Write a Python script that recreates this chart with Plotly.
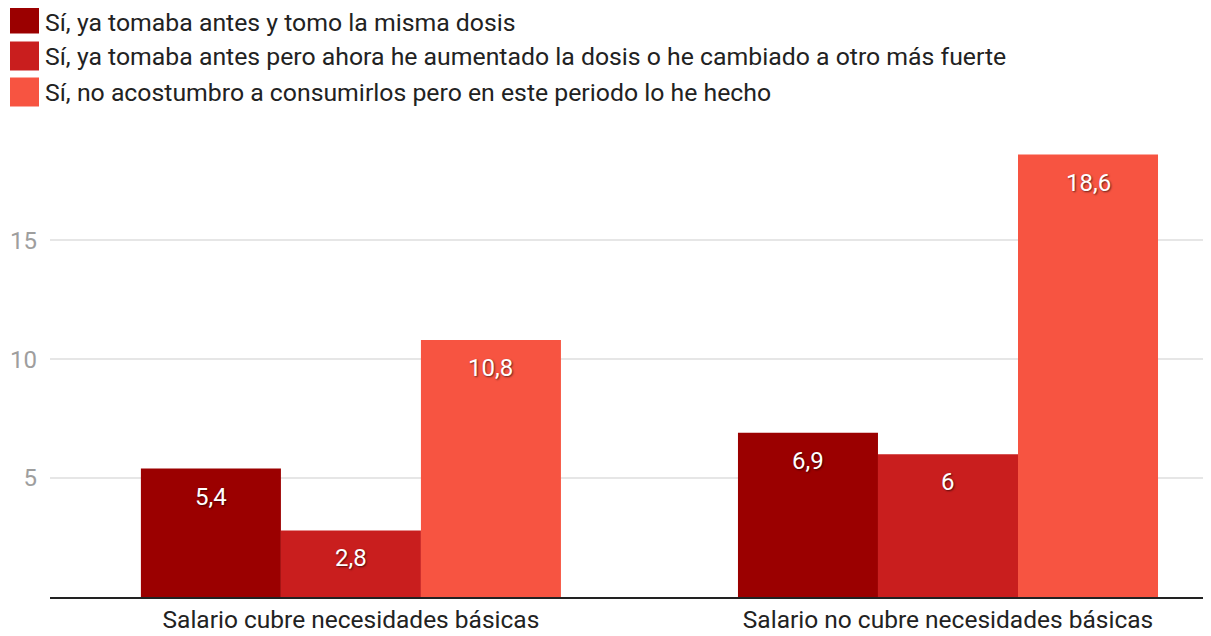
import plotly.graph_objects as go

categories = ["Salario cubre necesidades básicas", "Salario no cubre necesidades básicas"]
series_names = [
    "Sí, ya tomaba antes y tomo la misma dosis",
    "Sí, ya tomaba antes pero ahora he aumentado la dosis o he cambiado a otro más fuerte",
    "Sí, no acostumbro a consumirlos pero en este periodo lo he hecho",
]
series_values = [
    [5.4, 6.9],
    [2.8, 6.0],
    [10.8, 18.6],
]
colors = ["#9b0000", "#c91e1e", "#f75441"]
y_ticks = [5, 10, 15]

OFF = 8  # page body margin
W, H = 1211 - OFF, 636 - OFF
ML, MR, MT, MB = 50 - OFF, 0, 145 - OFF, 39
PW, PH = W - ML - MR, H - MT - MB
BARGAP = 0.2965
NSER = len(series_values)
BW = (1 - BARGAP) / NSER

def fmt(v):
    s = ("%.1f" % v).rstrip("0").rstrip(".")
    return s.replace(".", ",")

fig = go.Figure()
for i, (name, vals, col) in enumerate(zip(series_names, series_values, colors)):
    xs = list(range(len(categories)))
    fig.add_trace(go.Bar(
        x=xs, y=vals, name=name,
        marker=dict(color=col, line=dict(width=0)),
        showlegend=False, hoverinfo="y",
    ))
    # value labels placed at the top of each bar (derived from data + bar geometry)
    for xi, v in zip(xs, vals):
        fig.add_annotation(
            x=xi + (i - (NSER - 1) / 2) * BW, y=v, xref="x", yref="y",
            text=fmt(v), showarrow=False, yanchor="middle", yshift=-28,
            font=dict(family="Roboto", size=24, color="white",
                      shadow="1px 1px 2px rgba(0,0,0,0.6)"),
        )

# custom legend (swatches + text), positions in page pixels
sw_rows = [19, 56, 92]
txt_rows = [22, 56, 92]
for name, col, yc, yt in zip(series_names, colors, sw_rows, txt_rows):
    x0, x1 = 10, 39
    y0, y1 = yc - 14.5, yc + 14.5
    fig.add_shape(type="rect", xref="paper", yref="paper",
                  x0=(x0 - OFF - ML) / PW, x1=(x1 - OFF - ML) / PW,
                  y0=1 - (y1 - OFF - MT) / PH, y1=1 - (y0 - OFF - MT) / PH,
                  fillcolor=col, line=dict(width=0))
    fig.add_annotation(xref="paper", yref="paper", x=(44 - OFF - ML) / PW,
                       y=1 - (yt - OFF - MT) / PH,
                       text=name, showarrow=False, xanchor="left", yanchor="middle",
                       borderpad=0,
                       font=dict(family="Roboto", size=24.8, color="#222222"))

fig.update_layout(
    width=W, height=H,
    margin=dict(l=ML, r=MR, t=MT, b=MB, pad=0),
    paper_bgcolor="white", plot_bgcolor="white",
    barmode="group", bargap=BARGAP, bargroupgap=0,
    font=dict(family="Roboto"),
    xaxis=dict(range=[-0.504, 1.4405], tickvals=[0, 1], ticktext=categories,
               tickfont=dict(family="Roboto", size=24.5, color="#222222"),
               showgrid=False, showline=True, linecolor="#222222", linewidth=2,
               ticks="", zeroline=False, fixedrange=True),
    yaxis=dict(range=[0, 19], tickvals=y_ticks,
               tickfont=dict(family="Roboto", size=24, color="#9e9e9e"),
               showgrid=True, gridcolor="#e6e6e6", gridwidth=1.5,
               zeroline=False, showline=False, ticks="", ticklabelstandoff=12,
               fixedrange=True),
)

fig.write_html("out.html")
